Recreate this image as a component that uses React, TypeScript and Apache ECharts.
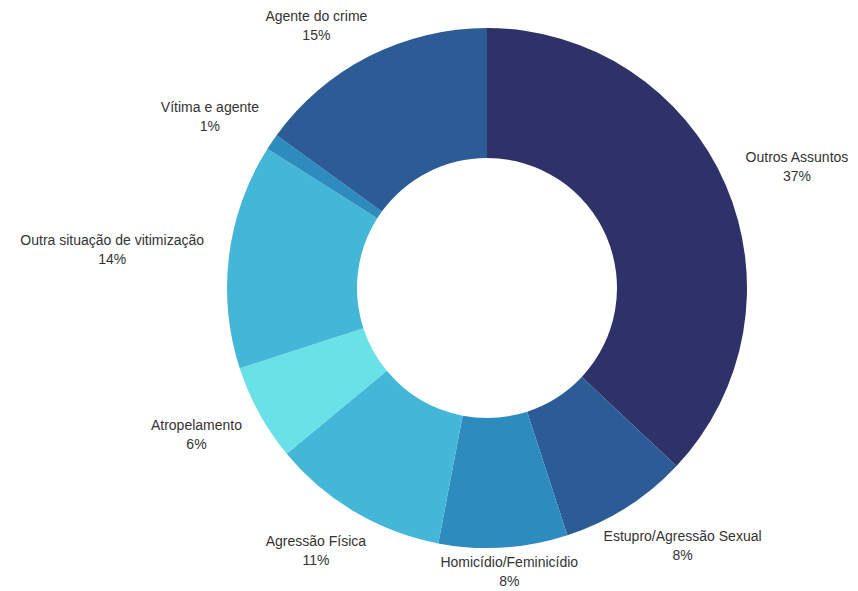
import React, { useEffect, useRef } from "react";
import * as echarts from "echarts";

const categories = [
  "Outros Assuntos",
  "Estupro/Agressão Sexual",
  "Homicídio/Feminicídio",
  "Agressão Física",
  "Atropelamento",
  "Outra situação de vitimização",
  "Vítima e agente",
  "Agente do crime",
];
const shares = [37, 8, 8, 11, 6, 14, 1, 15];
const sliceColors = [
  "#2f3268",
  "#2c5c96",
  "#2e8bbe",
  "#44b6d7",
  "#6ae1e6",
  "#44b6d7",
  "#2e8bbe",
  "#2c5c96",
];

const W = 858;
const H = 591;
const CX = 487;
const CY = 288;
const R_IN = 130;
const R_OUT = 260;
const LABEL_R = 286;
const TOP_PAD = 6;

export default function App() {
  const ref = useRef<HTMLDivElement>(null);
  useEffect(() => {
    const chart = echarts.init(ref.current!, null, { renderer: "svg" });
    const total = shares.reduce((a, b) => a + b, 0);
    const mids: number[] = [];
    let acc = 0;
    shares.forEach((v) => {
      mids.push(((acc + v / 2) / total) * 2 * Math.PI);
      acc += v;
    });
    chart.setOption({
      animation: false,
      backgroundColor: "#ffffff",
      series: [
        {
          type: "pie",
          center: [CX, CY],
          radius: [R_IN, R_OUT],
          startAngle: 90,
          clockwise: true,
          avoidLabelOverlap: false,
          silent: true,
          data: categories.map((n, i) => ({
            name: n,
            value: shares[i],
            itemStyle: { color: sliceColors[i] },
          })),
          label: {
            show: true,
            position: "outside",
            formatter: (p: any) => `${p.name}\n${Math.round(p.percent)}%`,
            color: "#333333",
            fontSize: 14,
            fontFamily: "Liberation Sans",
            lineHeight: 19,
            align: "center",
          },
          labelLine: { show: false },
          labelLayout: (p: any) => {
            let a = mids[p.dataIndex];
            let s = Math.sin(a);
            let c = Math.cos(a);
            const w = p.labelRect.width;
            const h = p.labelRect.height;
            let y = CY - LABEL_R * c - (c * h) / 2;
            const minY = h / 2 + TOP_PAD;
            if (y < minY) {
              // slide along the label ring on the same side until it fits
              const cNew = (CY - minY) / (LABEL_R + h / 2);
              const sNew = Math.sign(s) * Math.sqrt(Math.max(0, 1 - cNew * cNew));
              c = cNew;
              s = sNew;
              y = minY;
            }
            const x = CX + LABEL_R * s + (s * w) / 2;
            y = Math.min(y, H - h / 2 - 1);
            return { x, y, align: "center", verticalAlign: "middle" };
          },
        },
      ],
    });
    return () => chart.dispose();
  }, []);
  return (
    <div
      ref={ref}
      style={{ position: "fixed", left: 0, top: 0, width: W, height: H }}
    />
  );
}
